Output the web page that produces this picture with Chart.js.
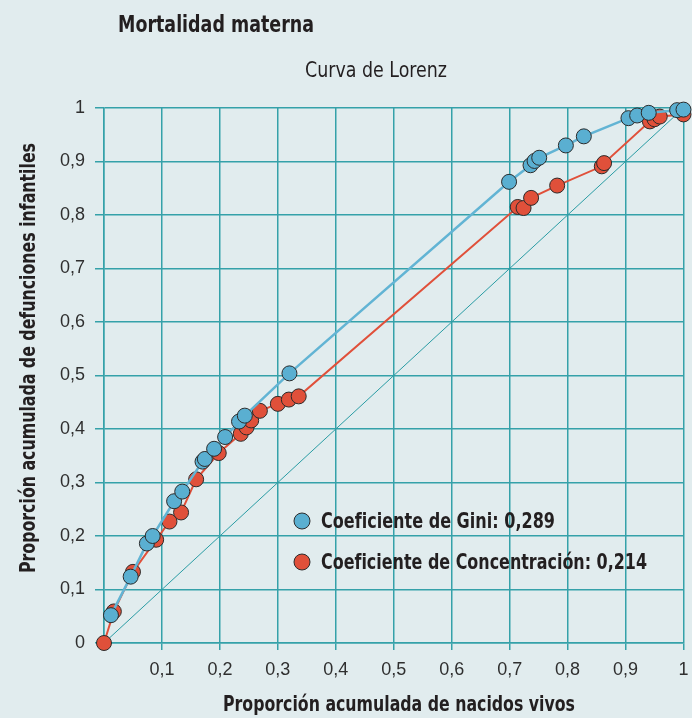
<!DOCTYPE html>
<html lang="es">
<head>
<meta charset="UTF-8">
<title>Mortalidad materna - Curva de Lorenz</title>
<script src="https://cdn.jsdelivr.net/npm/chart.js"></script>
<style>
  html, body { margin: 0; padding: 0; background: #e1ecee; overflow: hidden; }
  #grafico { display: block; }
</style>
</head>
<body>
<canvas id="grafico" width="692" height="718"></canvas>

<script>
    // Curva de Lorenz (Gini)
    const giniX = [0.012, 0.046, 0.074, 0.084, 0.121, 0.135, 0.170, 0.174, 0.190, 0.209, 0.233, 0.243,
                   0.320, 0.699, 0.736, 0.743, 0.751, 0.797, 0.828, 0.905, 0.920, 0.940, 0.989, 1.000];
    const giniY = [0.052, 0.124, 0.186, 0.200, 0.265, 0.283, 0.339, 0.344, 0.363, 0.385, 0.414, 0.425,
                   0.504, 0.862, 0.893, 0.901, 0.907, 0.930, 0.947, 0.981, 0.986, 0.991, 0.996, 0.997];

    // Curva de concentracion
    const concX = [0, 0.017, 0.050, 0.090, 0.113, 0.133, 0.159, 0.198, 0.236, 0.246, 0.254, 0.269,
                   0.300, 0.319, 0.336, 0.714, 0.724, 0.737, 0.782, 0.859, 0.863, 0.942, 0.950, 0.959, 1.000];
    const concY = [0, 0.059, 0.133, 0.193, 0.227, 0.244, 0.306, 0.355, 0.391, 0.403, 0.416, 0.434,
                   0.447, 0.455, 0.461, 0.815, 0.813, 0.832, 0.855, 0.891, 0.897, 0.975, 0.979, 0.984, 0.988];

    // Linea de igualdad
    const igualdadX = [0, 1];
    const igualdadY = [0, 1];

    const tickValores = [0, 0.1, 0.2, 0.3, 0.4, 0.5, 0.6, 0.7, 0.8, 0.9, 1];
    const tickEtiquetasY = ['0', '0,1', '0,2', '0,3', '0,4', '0,5', '0,6', '0,7', '0,8', '0,9', '1'];
    const tickEtiquetasX = ['', '0,1', '0,2', '0,3', '0,4', '0,5', '0,6', '0,7', '0,8', '0,9', '1'];

    const titulo = 'Mortalidad materna';
    const subtitulo = 'Curva de Lorenz';
    const tituloX = 'Proporción acumulada de nacidos vivos';
    const tituloY = 'Proporción acumulada de defunciones infantiles';
    const leyendaTextos = ['Coeficiente de Gini: 0,289', 'Coeficiente de Concentración: 0,214'];

    const azul = '#5aafd1';
    const rojo = '#e0503a';
    const rejilla = '#35a1a9';
    const texto = '#231f20';
    const fuente = "'DejaVu Sans Condensed', 'Liberation Sans', sans-serif";

    const puntos = (xs, ys) => xs.map((x, i) => ({x: x, y: ys[i]}));

    // el original usa una letra estrecha: se comprime el texto al ancho que ocupa
    function textoAjustado(ctx, t, x, y, ancho, align, rot) {
        ctx.save();
        ctx.translate(x, y);
        if (rot) ctx.rotate(rot);
        const w = ctx.measureText(t).width;
        ctx.scale(Math.min(1, ancho / w), 1);
        ctx.textAlign = align;
        ctx.fillText(t, 0, 0);
        ctx.restore();
    }

    const textosPlugin = {
        id: 'textosLorenz',
        afterDraw(chart) {
            const {ctx, chartArea} = chart;
            const colores = [azul, rojo];
            const anchos = [234, 326];
            ctx.save();
            ctx.fillStyle = texto;
            ctx.textBaseline = 'alphabetic';

            ctx.font = 'bold 23px ' + fuente;
            textoAjustado(ctx, titulo, 118, 32, 196, 'left');
            ctx.font = '21.5px ' + fuente;
            textoAjustado(ctx, subtitulo, 305, 77, 142, 'left');

            ctx.font = 'bold 21px ' + fuente;
            textoAjustado(ctx, tituloX, chartArea.left + 295, 711, 352, 'center');
            textoAjustado(ctx, tituloY, 35, 358, 430, 'center', -Math.PI / 2);

            // leyenda dentro del area del grafico
            leyendaTextos.forEach((t, i) => {
                const cx = chartArea.left + 198;
                const cy = chartArea.top + 413 + i * 41;
                ctx.beginPath();
                ctx.arc(cx, cy, 8, 0, Math.PI * 2);
                ctx.fillStyle = colores[i];
                ctx.fill();
                ctx.lineWidth = 1;
                ctx.strokeStyle = '#2b2b2b';
                ctx.stroke();
                ctx.fillStyle = texto;
                textoAjustado(ctx, t, cx + 19, cy + 7, anchos[i], 'left');
            });
            ctx.restore();
        }
    };

    const ctx = document.getElementById('grafico').getContext('2d');
    const chart = new Chart(ctx, {
        type: 'scatter',
        data: {
            datasets: [{
                label: leyendaTextos[0],
                data: puntos(giniX, giniY),
                showLine: true,
                borderColor: '#62b4d4',
                borderWidth: 2.5,
                backgroundColor: azul,
                pointBackgroundColor: azul,
                pointBorderColor: '#2b2b2b',
                pointBorderWidth: 1,
                pointRadius: 7.5,
                clip: false
            }, {
                label: leyendaTextos[1],
                data: puntos(concX, concY),
                showLine: true,
                borderColor: rojo,
                borderWidth: 2,
                backgroundColor: rojo,
                pointBackgroundColor: rojo,
                pointBorderColor: '#2b2b2b',
                pointBorderWidth: 1,
                pointRadius: 7.5,
                clip: false
            }, {
                label: 'Igualdad',
                data: puntos(igualdadX, igualdadY),
                showLine: true,
                borderColor: '#2a9ca4',
                borderWidth: 1,
                pointRadius: 0
            }]
        },
        options: {
            responsive: false,
            animation: false,
            events: [],
            layout: { padding: { top: 108, left: 0, right: 0, bottom: 0 } },
            plugins: {
                legend: { display: false },
                tooltip: { enabled: false }
            },
            scales: {
                x: {
                    type: 'linear',
                    min: 0,
                    max: 1,
                    afterBuildTicks: s => { s.ticks = tickValores.map(v => ({value: v})); },
                    afterFit: s => { s.height = 75; s.paddingRight = 6; s.paddingLeft = 0; },
                    grid: { color: rejilla, lineWidth: 1.5, tickLength: 7 },
                    border: { color: rejilla, width: 1.5 },
                    ticks: {
                        autoSkip: false,
                        maxRotation: 0,
                        padding: 9,
                        color: '#2f2f2f',
                        font: { family: "'Liberation Sans', sans-serif", size: 18 },
                        callback: (v, i) => tickEtiquetasX[i]
                    },
                    title: { display: false, text: tituloX }
                },
                y: {
                    type: 'linear',
                    min: 0,
                    max: 1,
                    afterBuildTicks: s => { s.ticks = tickValores.map(v => ({value: v})); },
                    afterFit: s => { s.width = 104; s.paddingTop = 0; s.paddingBottom = 0; },
                    grid: { color: rejilla, lineWidth: 1.5, tickLength: 9 },
                    border: { color: rejilla, width: 1.5 },
                    ticks: {
                        autoSkip: false,
                        padding: 10,
                        color: '#2f2f2f',
                        font: { family: "'Liberation Sans', sans-serif", size: 18 },
                        callback: (v, i) => tickEtiquetasY[i]
                    },
                    title: { display: false, text: tituloY }
                }
            }
        },
        plugins: [textosPlugin]
    });
</script>
</body>
</html>
